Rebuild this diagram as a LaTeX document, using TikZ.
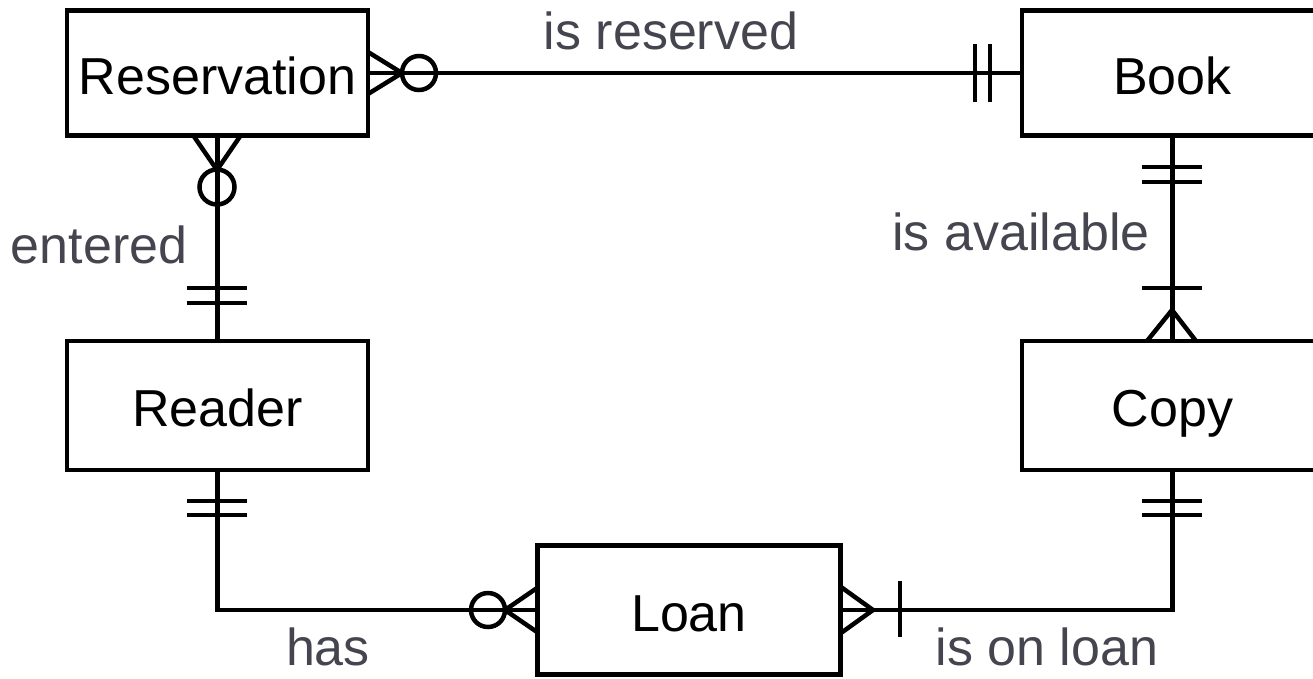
\documentclass[tikz,border=0pt]{standalone}
\usepackage{fontspec}
\setmainfont{Liberation Sans}
\definecolor{labelgray}{HTML}{45454F}
\begin{document}
\begin{tikzpicture}[x=1pt,y=-1pt,
  entity/.style={draw=black, line width=4.5pt, fill=white, minimum width=301pt, inner sep=0pt,
    font=\fontsize{52}{60}\selectfont, text=black, text height=42pt, text depth=0pt},
  rel/.style={font=\fontsize{52}{60}\selectfont, text=labelgray, anchor=base, inner sep=0pt},
  conn/.style={line width=4.5pt, black},
  cfmark/.style={line width=4.5pt, black}]
\useasboundingbox (0,0) rectangle (1313,678);
\node[entity, minimum height=125pt] (res) at (217.5,73) {Reservation};
\node[entity, minimum height=125pt] (book) at (1172.5,73) {Book};
\node[entity, minimum height=129pt] (reader) at (217.5,405.5) {Reader};
\node[entity, minimum height=129pt] (copy) at (1172.5,405.5) {Copy};
\node[entity, minimum width=303pt, minimum height=129pt] (loan) at (689,610) {Loan};

% Reservation -- Book
\draw[conn] (res.east) -- (book.west);
\coordinate (rb1) at (402,73);
\draw[cfmark] (368,52) -- (rb1) -- (368,94);
\draw[cfmark] (419,73) circle[radius=17pt];
\draw[cfmark] (975,44) -- (975,102);
\draw[cfmark] (990,44) -- (990,102);

% Reservation -- Reader
\draw[conn] (res.south) -- (reader.north);
\coordinate (rr1) at (217,170);
\draw[cfmark] (193,135) -- (rr1) -- (241,135);
\draw[cfmark] (217,187) circle[radius=17.5pt];
\draw[cfmark] (187,288) -- (247,288);
\draw[cfmark] (187,303) -- (247,303);

% Book -- Copy
\draw[conn] (book.south) -- (copy.north);
\draw[cfmark] (1142,167) -- (1202,167);
\draw[cfmark] (1142,182) -- (1202,182);
\draw[cfmark] (1142,288) -- (1202,288);
\coordinate (bc1) at (1172,310);
\draw[cfmark] (1147,341) -- (bc1) -- (1196,341);

% Reader -- Loan
\draw[conn] (reader.south) |- (loan.west);
\draw[cfmark] (187,501) -- (247,501);
\draw[cfmark] (187,515) -- (247,515);
\coordinate (rl1) at (505,610);
\draw[cfmark] (537,588) -- (rl1) -- (537,632);
\draw[cfmark] (488,610) circle[radius=17pt];

% Copy -- Loan
\draw[conn] (copy.south) |- (loan.east);
\draw[cfmark] (1142,501) -- (1202,501);
\draw[cfmark] (1142,515) -- (1202,515);
\coordinate (cl1) at (873,610);
\draw[cfmark] (841,587) -- (cl1) -- (841,633);
\draw[cfmark] (900,581) -- (900,637);

% labels
\node[rel] (l1) at (671,49) {is reserved};
\node[rel] (l2) at (99,263) {entered};
\node[rel] (l3) at (1021,250) {is available};
\node[rel] (l4) at (328,665) {has};
\node[rel] (l5) at (1047,665) {is on loan};
\end{tikzpicture}
\end{document}
